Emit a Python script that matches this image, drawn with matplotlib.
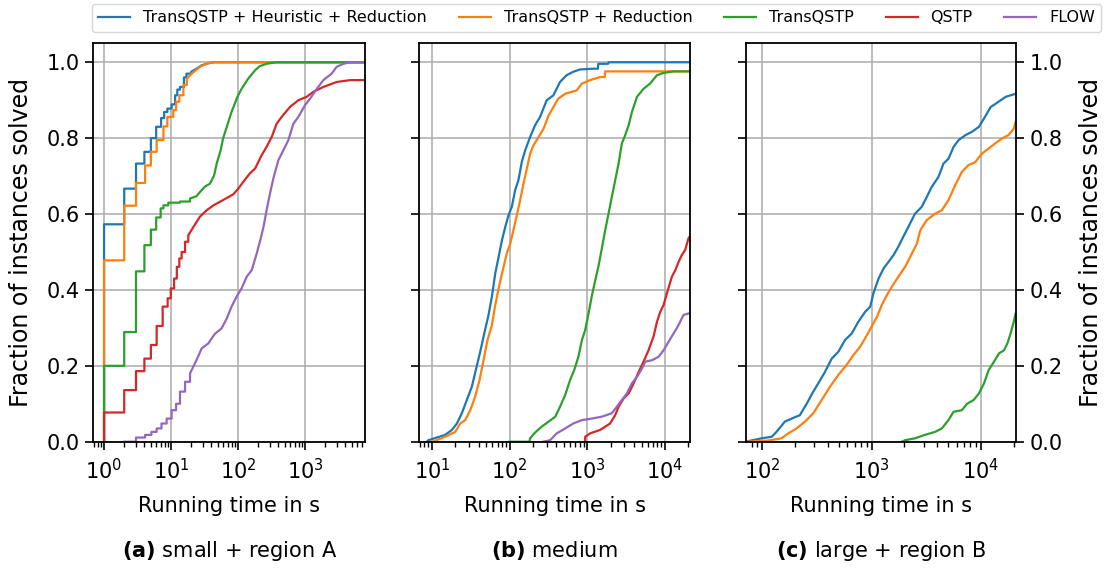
import numpy as np
import matplotlib.pyplot as plt

LABELS = ['TransQSTP + Heuristic + Reduction', 'TransQSTP + Reduction',
          'TransQSTP', 'QSTP', 'FLOW']
COLORS = ['tab:blue', 'tab:orange', 'tab:green', 'tab:red', 'tab:purple']
CAPTIONS = [r'$\mathbf{(a)}$ small + region A', r'$\mathbf{(b)}$ medium',
            r'$\mathbf{(c)}$ large + region B']
XLIMS = [(0.69, 7950), (6.9, 21000), (70.5, 21000)]
# small instances are timed in whole seconds -> visible stairs at short times
STAIR_UNTIL = [20, 0, 0]

# ---- (a) small + region A : (time in s, fraction solved)
a_heur_t = [1, 1, 2, 3, 4, 5, 6, 7.1, 7.9, 8.8, 10.2, 11.5, 12.4, 13.6, 15.6, 17, 20, 24, 28.6, 34, 43]
a_heur_f = [0, .573, .667, .733, .764, .80, .83, .853, .869, .878, .889, .913, .928, .935, .96, .97, .975, .983, .992, .996, 1.0]
a_red_t = [1, 1, 2, 3, 4.1, 5, 6.1, 7.7, 8.8, 10.8, 11.9, 13.3, 15.3, 17.2, 20.3, 27, 36, 45]
a_red_f = [0, .478, .622, .682, .728, .764, .795, .831, .856, .874, .896, .913, .94, .957, .97, .988, .998, 1.0]
a_tq_t = [1, 1, 2, 3, 4, 5, 6, 7, 7.7, 9.1, 13.6, 19.2, 24, 27, 32, 38, 44, 48, 55, 60, 68, 80, 98, 113, 142, 180, 212, 267, 377]
a_tq_f = [0, .20, .289, .449, .518, .559, .591, .615, .623, .630, .633, .641, .647, .658, .672, .680, .702, .733, .768, .80, .83, .869, .909, .93, .957, .979, .99, .996, 1.0]
a_qstp_t = [1, 1, 2, 3, 4, 5, 6.1, 7.5, 8.9, 9.9, 11.1, 12.2, 13.3, 14.4, 16.2, 18.1, 21.6, 27, 34, 43, 60, 85, 101, 120, 150, 180,
            225, 267, 318, 377, 448, 595, 795, 1060, 1330, 1880, 2970, 4700]
a_qstp_f = [0, .077, .136, .186, .219, .255, .305, .356, .378, .404, .43, .461, .483, .50, .527, .544, .566, .593, .61, .623, .637, .652, .667, .685, .707, .72,
            .755, .777, .803, .838, .856, .882, .90, .909, .922, .935, .948, .953]
a_flow_t = [2, 3, 4.1, 5.1, 6.1, 7.2, 8.6, 10.2, 11.9, 13.6, 16.2, 19.2, 24, 28.7, 36, 45, 57, 68, 80, 95, 113, 135, 160, 190, 212,
            240, 267, 300, 337, 400, 475, 565, 670, 795, 1000, 1190, 1500, 1880, 2500, 2970, 3750, 4700]
a_flow_f = [0, .011, .018, .026, .035, .048, .061, .083, .10, .132, .158, .18, .215, .246, .259, .284, .299, .325, .356, .382, .404, .435, .452, .496, .527,
            .566, .61, .654, .694, .742, .768, .795, .838, .856, .887, .904, .93, .953, .97, .988, .996, 1.0]

# ---- (b) medium
b_heur_t = [8.6, 9, 11.6, 14.8, 18.1, 21, 24.3, 28.2, 32.7, 37.2, 41.9, 47.2, 53.6, 59.2, 65.4, 72.3, 79.8, 88, 97, 107, 118, 130, 144,
            159, 184, 213, 247, 301, 367, 446, 543, 661, 805, 1190, 1370, 1390, 1860, 1880]
b_heur_f = [0, .004, .011, .018, .031, .048, .075, .11, .145, .193, .237, .285, .334, .382, .443, .487, .531, .566, .597, .619, .663, .689, .738,
            .768, .803, .834, .856, .90, .913, .948, .966, .975, .981, .983, .983, .996, .996, 1.0]
b_red_t = [10.4, 15.9, 20, 23.2, 26.9, 31.2, 36.1, 41, 46.3, 52, 59.2, 65.4, 72.3, 79.8, 92, 102, 112, 124, 137, 151, 167, 184, 203,
           236, 274, 318, 367, 422, 520, 733, 854, 1090, 1460, 1680, 1700]
b_red_f = [0, .016, .026, .048, .057, .083, .119, .162, .215, .268, .307, .36, .404, .443, .496, .522, .557, .597, .637, .68, .72, .759, .781,
           .803, .825, .86, .882, .904, .917, .926, .944, .953, .961, .961, .976]
b_tq_t = [100, 180, 184, 213, 260, 318, 388, 446, 520, 600, 680, 770, 854, 940, 1040, 1150, 1270, 1390, 1540, 1700, 1880, 2070, 2290, 2530,
          2790, 3080, 3410, 3760, 4370, 5300, 6450, 7900, 9600, 12900]
b_tq_f = [0, 0, .009, .024, .04, .053, .066, .092, .123, .162, .189, .224, .268, .294, .338, .386, .426, .461, .509, .557, .601, .645, .689, .733,
          .786, .808, .834, .869, .909, .93, .944, .966, .972, .976]
b_qstp_t = [940, 940, 1090, 1460, 1970, 2290, 2530, 2940, 3410, 3960, 4590, 5300, 6150, 7130, 7900, 8700, 9600, 10600, 12300, 13600,
            15000, 16500, 18200, 20100, 20700]
b_qstp_f = [0, .013, .022, .031, .048, .07, .092, .114, .127, .154, .184, .211, .241, .277, .316, .342, .36, .391, .435, .452,
            .474, .492, .505, .536, .54]
b_flow_t = [270, 333, 405, 520, 661, 854, 1150, 1540, 2070, 2400, 2790, 3230, 3760, 4370, 5070, 5600, 6870, 8300, 9600, 11100, 12900,
            14200, 15700, 17300, 20100]
b_flow_f = [0, .004, .022, .035, .048, .057, .061, .066, .075, .092, .11, .127, .154, .171, .193, .211, .215, .224, .241, .263, .285,
            .299, .316, .334, .338]

# ---- (c) large + region B
c_heur_t = [70.5, 98.6, 122, 135, 161, 186, 221, 255, 293, 326, 375, 432, 497, 572, 658, 757, 872, 973, 1040, 1160, 1290, 1430, 1590,
            1760, 1950, 2170, 2500, 2880, 3200, 3560, 4100, 4550, 5060, 5630, 6260, 7230, 8330, 9610, 10700, 12300, 13700, 15200,
            16900, 20300]
c_heur_f = [0, .009, .013, .026, .053, .061, .07, .10, .132, .154, .184, .219, .237, .268, .285, .316, .342, .356, .391, .43, .457, .474, .492,
            .514, .54, .566, .601, .619, .645, .672, .698, .733, .746, .777, .795, .808, .817, .83, .852, .882, .891, .90,
            .909, .916]
c_red_t = [70.5, 113, 150, 173, 206, 246, 293, 350, 417, 497, 590, 681, 785, 872, 1000, 1120, 1240, 1380, 1530, 1760, 2030, 2340,
           2600, 2790, 3200, 3820, 4400, 5060, 5830, 6700, 7700, 8900, 10200, 11800, 13500, 15600, 17900, 20000, 20800]
c_red_f = [0, .003, .009, .022, .035, .053, .075, .11, .145, .176, .202, .228, .25, .272, .303, .329, .36, .386, .408, .435, .461, .496,
           .522, .557, .584, .601, .61, .637, .676, .711, .729, .737, .759, .773, .786, .799, .808, .825, .843]
c_tq_t = [1890, 2030, 2500, 3080, 3820, 4400, 5060, 5630, 6700, 7480, 8600, 9600, 10700, 11800, 13200, 14700, 16300, 17500, 18700,
          20000, 20800]
c_tq_f = [0, .004, .009, .018, .026, .035, .057, .079, .083, .10, .11, .127, .154, .189, .211, .233, .241, .259, .285, .316, .338]
c_qstp_t = [20800]
c_qstp_f = [0]

panels = [
    [(a_heur_t, a_heur_f), (a_red_t, a_red_f), (a_tq_t, a_tq_f), (a_qstp_t, a_qstp_f), (a_flow_t, a_flow_f)],
    [(b_heur_t, b_heur_f), (b_red_t, b_red_f), (b_tq_t, b_tq_f), (b_qstp_t, b_qstp_f), (b_flow_t, b_flow_f)],
    [(c_heur_t, c_heur_f), (c_red_t, c_red_f), (c_tq_t, c_tq_f), (c_qstp_t, c_qstp_f), None],
]


def stairs(t, f, until):
    # insert corner points (step 'post') while t is below `until`
    xs, ys = [t[0]], [f[0]]
    for j in range(1, len(t)):
        if t[j] <= until:
            xs.append(t[j])
            ys.append(f[j - 1])
        xs.append(t[j])
        ys.append(f[j])
    return xs, ys


fig = plt.figure(figsize=(11.05, 5.69), dpi=100)
lefts = [0.0844, 0.3795, 0.6748]
widths = [0.2462, 0.2449, 0.2447]
axes = []
for i in range(3):
    ax = fig.add_axes([lefts[i], 0.2237, widths[i], 0.7002])
    axes.append(ax)
    for k, s in enumerate(panels[i]):
        if s is None:
            continue
        t = list(s[0]) + [XLIMS[i][1] * 1.05]
        f = list(s[1]) + [s[1][-1]]
        xs, ys = stairs(t, f, STAIR_UNTIL[i])
        ax.plot(xs, ys, color=COLORS[k], lw=1.6, label=LABELS[k])
    ax.set_xscale('log')
    ax.set_xlim(*XLIMS[i])
    ax.set_ylim(0, 1.05)
    ax.set_yticks([0, .2, .4, .6, .8, 1.0])
    ax.set_yticklabels(['0.0', '0.2', '0.4', '0.6', '0.8', '1.0'])
    ax.grid(True, color='#b0b0b0', lw=1.2)
    ax.set_axisbelow(True)
    for sp in ax.spines.values():
        sp.set_linewidth(1.3)
    ax.tick_params(which='major', length=6, width=1.2, labelsize=15)
    ax.tick_params(axis='x', which='major', pad=6)
    ax.tick_params(which='minor', length=3.5, width=1.0)
    ax.set_xlabel('Running time in s', fontsize=15, labelpad=9)
    ax.text(0.5, -0.274, CAPTIONS[i], transform=ax.transAxes, ha='center', va='center', fontsize=15)

axes[0].set_ylabel('Fraction of instances solved', fontsize=17, labelpad=10)
axes[1].tick_params(axis='y', labelleft=False)
axes[2].yaxis.tick_right()
axes[2].tick_params(axis='y', left=True, labelleft=False, right=True, labelright=True)
axes[2].yaxis.set_label_position('right')
axes[2].set_ylabel('Fraction of instances solved', fontsize=17, labelpad=12)

h, l = axes[0].get_legend_handles_labels()
fig.legend(h, l, loc='upper center', ncol=5, bbox_to_anchor=(0.54, 1.0), fontsize=11.5,
           frameon=True, edgecolor='#cccccc', handlelength=2.0, columnspacing=2.0,
           borderpad=0.4, borderaxespad=0.25)

fig.savefig('out.png', dpi=100)
